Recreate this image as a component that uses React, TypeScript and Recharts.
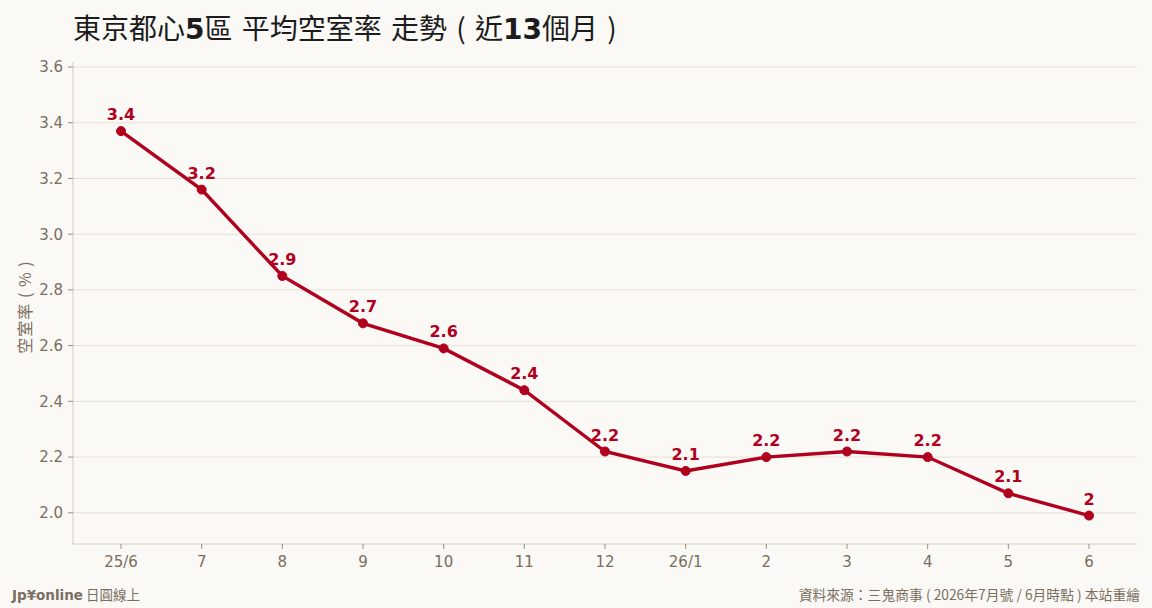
import React from "react";
import { LineChart, Line, XAxis, YAxis, CartesianGrid, LabelList } from "recharts";

const months = ["25/6", "7", "8", "9", "10", "11", "12", "26/1", "2", "3", "4", "5", "6"];
const vacancyRate = [3.37, 3.16, 2.85, 2.68, 2.59, 2.44, 2.22, 2.15, 2.2, 2.22, 2.2, 2.07, 1.99];
const yTicks = [2.0, 2.2, 2.4, 2.6, 2.8, 3.0, 3.2, 3.4, 3.6];

const data = months.map((m, i) => ({ month: m, rate: vacancyRate[i] }));

const FONT = '"DejaVu Sans", "Noto Sans CJK TC", sans-serif';
const CJK = '"Noto Sans CJK TC", "DejaVu Sans", sans-serif';
const RED = "#b0001e";
const MUTED = "#7a6e5e";

export default function App() {
  return (
    <div
      style={{
        position: "absolute",
        left: 0,
        top: 0,
        width: 1152,
        height: 608,
        background: "#faf9f6",
        fontFamily: FONT,
        overflow: "hidden",
      }}
    >
      <div
        style={{
          position: "absolute",
          left: 73,
          top: 8,
          fontSize: 28,
          color: "#1c1c1c",
          fontFamily: CJK,
          whiteSpace: "nowrap",
          lineHeight: "38px",
          wordSpacing: 3,
        }}
      >
        東京都心<b style={{ fontFamily: FONT }}>5</b>區 平均空室率 走勢 ( 近<b style={{ fontFamily: FONT }}>13</b>個月 )
      </div>

      <div
        style={{
          position: "absolute",
          left: 24,
          top: 307,
          transform: "translate(-50%, -50%) rotate(-90deg)",
          fontSize: 16,
          color: MUTED,
          fontFamily: CJK,
          whiteSpace: "nowrap",
          letterSpacing: 1,
        }}
      >
        空室率 ( % )
      </div>

      <LineChart
        width={1152}
        height={608}
        data={data}
        margin={{ top: 62, right: 15, bottom: 34, left: 0 }}
        style={{ position: "absolute", left: 0, top: 0 }}
      >
        <CartesianGrid vertical={false} stroke="#e6e1d6" strokeWidth={1} syncWithTicks />
        <XAxis
          dataKey="month"
          height={30}
          padding={{ left: 48, right: 48 }}
          interval={0}
          tickSize={5}
          tickMargin={7}
          stroke="#d4ccbd"
          tick={{ fill: MUTED, fontSize: 15, fontFamily: FONT }}
          tickLine={{ stroke: "#9a8f80" }}
        />
        <YAxis
          width={73}
          type="number"
          domain={[1.888, 3.618]}
          ticks={yTicks}
          allowDataOverflow
          tickFormatter={(v: number) => v.toFixed(1)}
          tickSize={5}
          tickMargin={5}
          stroke="#d4ccbd"
          tick={{ fill: MUTED, fontSize: 15, fontFamily: FONT }}
          tickLine={{ stroke: "#9a8f80" }}
        />
        <Line
          type="linear"
          dataKey="rate"
          stroke={RED}
          strokeWidth={3.4}
          dot={{ r: 4.5, fill: RED, stroke: RED, strokeWidth: 1 }}
          activeDot={false}
          isAnimationActive={false}
        >
          <LabelList
            dataKey="rate"
            position="top"
            offset={11}
            formatter={(v: any) => String(Number(Number(v).toFixed(1)))}
            style={{ fill: RED, fontSize: 16, fontWeight: "bold", fontFamily: FONT }}
          />
        </Line>
      </LineChart>

      <div
        style={{
          position: "absolute",
          left: 12,
          top: 584,
          fontSize: 13.5,
          color: MUTED,
          whiteSpace: "nowrap",
          fontFamily: CJK,
        }}
      >
        <b style={{ fontFamily: FONT }}>Jp¥online</b> 日圓線上
      </div>
      <div
        style={{
          position: "absolute",
          right: 12,
          top: 584,
          fontSize: 13.8,
          color: MUTED,
          whiteSpace: "nowrap",
          fontFamily: CJK,
        }}
      >
        資料來源：三鬼商事 ( 2026年7月號 / 6月時點 ) 本站重繪
      </div>
    </div>
  );
}
